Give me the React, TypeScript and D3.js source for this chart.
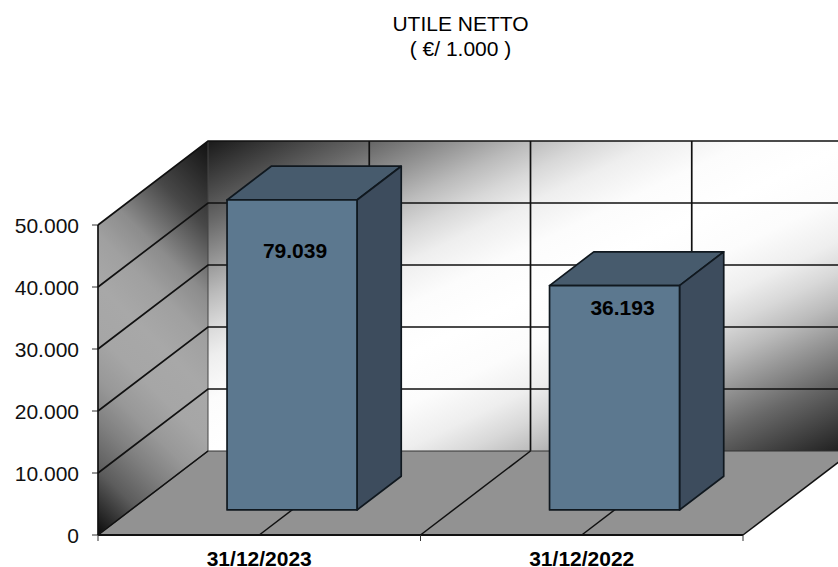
import React from "react";
import * as d3 from "d3";

const categories = ["31/12/2023", "31/12/2022"];
const values = [79039, 36193];
const yTicks = [0, 10000, 20000, 30000, 40000, 50000];
const yMax = 50000;
const titleLines = ["UTILE NETTO", "( €/ 1.000 )"];

// plot frame, front plane of the 3d box
const left = 98;
const right = 743;
const bottom = 535;
const top = 225;
const depthX = 110;
const depthY = 84;

// bars sit inside the box depth
const barShare = 0.403;
const zFront = 0.298;
const zBack = 0.7;
const labelDrop = [58, 29]; // label baseline below the bar's top edge
const labelShift = [3, 8];

const fontFamily = "'Liberation Sans', Arial, sans-serif";
const line = "#111";
const lineW = 1.7;

const backStops: [number, string][] = [
  [0, "#1a1a1a"],
  [0.08, "#4a4a4a"],
  [0.13, "#686868"],
  [0.2, "#989898"],
  [0.25, "#bbbbbb"],
  [0.3, "#d8d8d8"],
  [0.35, "#eeeeee"],
  [0.42, "#fcfcfc"],
  [0.5, "#ffffff"],
  [0.58, "#fcfcfc"],
  [0.65, "#eeeeee"],
  [0.7, "#d8d8d8"],
  [0.75, "#bbbbbb"],
  [0.8, "#989898"],
  [0.87, "#686868"],
  [0.92, "#4a4a4a"],
  [1, "#1a1a1a"],
];
const sideStops: [number, string][] = [
  [0, "#0a0a0a"],
  [0.13, "#5c5c5c"],
  [0.23, "#808080"],
  [0.31, "#989898"],
  [0.4, "#a6a6a6"],
  [0.5, "#a8a8a8"],
  [0.6, "#a0a0a0"],
  [0.69, "#8c8c8c"],
  [0.825, "#484848"],
  [1, "#111111"],
];

const itNumber = d3.formatLocale({
  decimal: ",",
  thousands: ".",
  grouping: [3],
  currency: ["€", ""],
}).format(",d");

const pts = (list: number[][]) => list.map((p) => p.join(",")).join(" ");

export default function App() {
  const x = d3.scaleBand<string>().domain(categories).range([left, right]).padding(0);
  const y = d3.scaleLinear().domain([0, yMax]).range([bottom, top]);
  const band = x.bandwidth();
  const barW = band * barShare;

  // floor / back wall divisions: band edges plus band centres
  const divisions = d3.range(0, categories.length * 2 + 1).map((i) => left + (i * band) / 2);
  const bandEdges = d3.range(0, categories.length + 1).map((i) => left + i * band);
  const wallH = bottom - top;

  return (
    <svg
      width={838}
      height={567}
      style={{ position: "absolute", left: 0, top: 0, background: "#fff" }}
    >
      <defs>
        <linearGradient id="backWall" x1="0" y1="0" x2="1" y2="1">
          {backStops.map(([o, c], i) => (
            <stop key={i} offset={o} stopColor={c} />
          ))}
        </linearGradient>
        {/* skewed with the wall, so the unit square maps onto the parallelogram */}
        <linearGradient
          id="sideWall"
          gradientUnits="userSpaceOnUse"
          x1="0"
          y1="0"
          x2="0.725"
          y2="1.17"
          gradientTransform={`matrix(${depthX},${-depthY},0,${-wallH},${left},${bottom})`}
        >
          {sideStops.map(([o, c], i) => (
            <stop key={i} offset={o} stopColor={c} />
          ))}
        </linearGradient>
      </defs>

      {titleLines.map((t, i) => (
        <text
          key={t}
          x={460.5}
          y={31 + i * 25}
          textAnchor="middle"
          fontFamily={fontFamily}
          fontSize={21}
          fill="#000"
        >
          {t}
        </text>
      ))}

      {/* walls and floor */}
      <rect
        x={left + depthX}
        y={top - depthY}
        width={right - left}
        height={wallH}
        fill="url(#backWall)"
      />
      <polygon
        points={pts([
          [left, bottom],
          [left, top],
          [left + depthX, top - depthY],
          [left + depthX, bottom - depthY],
        ])}
        fill="url(#sideWall)"
      />
      <polygon
        points={pts([
          [left, bottom],
          [right, bottom],
          [right + depthX, bottom - depthY],
          [left + depthX, bottom - depthY],
        ])}
        fill="#929292"
      />

      {/* back wall verticals */}
      {divisions.map((d, i) => (
        <line
          key={i}
          x1={d + depthX}
          x2={d + depthX}
          y1={top - depthY}
          y2={bottom - depthY}
          stroke={i === 0 ? "#444" : line}
          strokeWidth={i === 0 ? 1 : lineW}
        />
      ))}

      {/* horizontal gridlines, wrapping side wall and back wall */}
      {yTicks.map((t) => (
        <g key={t} fill="none" stroke={t === 0 ? "#333" : line} strokeWidth={t === 0 ? 1.2 : lineW}>
          <polyline
            points={pts([
              [left, y(t)],
              [left + depthX, y(t) - depthY],
              [right + depthX, y(t) - depthY],
            ])}
          />
          <line x1={left - 6} x2={left} y1={y(t)} y2={y(t)} stroke="#333" strokeWidth={1} />
        </g>
      ))}

      {/* floor divisions */}
      {divisions.map((d, i) => (
        <line
          key={i}
          x1={d}
          y1={bottom}
          x2={d + depthX}
          y2={bottom - depthY}
          stroke={line}
          strokeWidth={1.5}
        />
      ))}

      {/* axes */}
      <line x1={left} x2={left} y1={top} y2={bottom} stroke={line} strokeWidth={lineW} />
      <line x1={left} x2={right} y1={bottom} y2={bottom} stroke={line} strokeWidth={2} />
      {bandEdges.map((d) => (
        <line key={d} x1={d} x2={d} y1={bottom} y2={bottom + 6} stroke="#333" strokeWidth={1} />
      ))}

      {yTicks.map((t) => (
        <text
          key={t}
          x={79}
          y={y(t) + 7.5}
          textAnchor="end"
          fontFamily={fontFamily}
          fontSize={21}
          fill="#111"
        >
          {itNumber(t)}
        </text>
      ))}

      {/* bars, clipped at the axis maximum like the source chart */}
      {categories.map((c, i) => {
        const cx = (x(c) as number) + band / 2;
        const x0 = cx - barW / 2 + zFront * depthX;
        const x1 = x0 + barW;
        const yBase = bottom - zFront * depthY;
        const h = bottom - y(Math.min(values[i], yMax));
        const yTop = yBase - h;
        const dx = (zBack - zFront) * depthX;
        const dy = (zBack - zFront) * depthY;
        return (
          <g key={c} stroke="#10181f" strokeWidth={lineW} strokeLinejoin="round">
            <polygon
              points={pts([
                [x0, yTop],
                [x1, yTop],
                [x1 + dx, yTop - dy],
                [x0 + dx, yTop - dy],
              ])}
              fill="#475b6d"
            />
            <polygon
              points={pts([
                [x1, yTop],
                [x1 + dx, yTop - dy],
                [x1 + dx, yBase - dy],
                [x1, yBase],
              ])}
              fill="#3d4c5d"
            />
            <rect x={x0} y={yTop} width={barW} height={h} fill="#5c788f" />
            <text
              x={(x0 + x1) / 2 + labelShift[i]}
              y={yTop + labelDrop[i]}
              textAnchor="middle"
              fontFamily={fontFamily}
              fontSize={21}
              fontWeight="bold"
              fill="#000"
              stroke="none"
            >
              {itNumber(values[i])}
            </text>
          </g>
        );
      })}

      {categories.map((c) => (
        <text
          key={c}
          x={(x(c) as number) + band / 2}
          y={566}
          textAnchor="middle"
          fontFamily={fontFamily}
          fontSize={21}
          fontWeight="bold"
          fill="#000"
        >
          {c}
        </text>
      ))}
    </svg>
  );
}
